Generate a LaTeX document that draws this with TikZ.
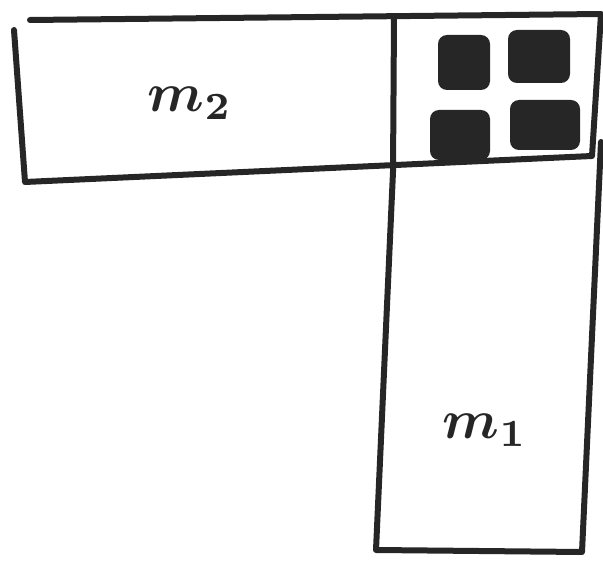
\documentclass[tikz,border=0pt]{standalone}
\usepackage{bm}
\begin{document}
\begin{tikzpicture}[x=1pt,y=-1pt,line join=round,line cap=round,line width=6pt,
	ink/.style={draw=black!85},
	blob/.style={fill=black!85,rounded corners=9pt},
	lbl/.style={scale=5.5,text=black!85}]
	\useasboundingbox (0,0) rectangle (603,561);
	\path (30,20) coordinate (A)
	(601,14) coordinate (B)
	(592,156) coordinate (C)
	(14,30) coordinate (D)
	(25,182) coordinate (E)
	(394,18) coordinate (F)
	(393,172) coordinate (G)
	(376,550) coordinate (H)
	(582,552) coordinate (K)
	(601,142) coordinate (P);
	\draw[ink] (A)--(B)--(C)
	(D)--(E)--(C)
	(F)--(G)--(H)--(K)--(P)--++(0,20);
	\foreach \x/\y/\w/\h in {438/35/52/55,508/30/62/53,430/110/60/50,510/100/70/50}
	\fill[blob] (\x,\y) rectangle ++(\w,\h);
	\node[lbl] (m2) at (190,103) {$\bm{m}_{\bm{2}}$};
	\node[lbl] (m1) at (485,430) {$\bm{m}_{\bm{1}}$};
\end{tikzpicture}
\end{document}
